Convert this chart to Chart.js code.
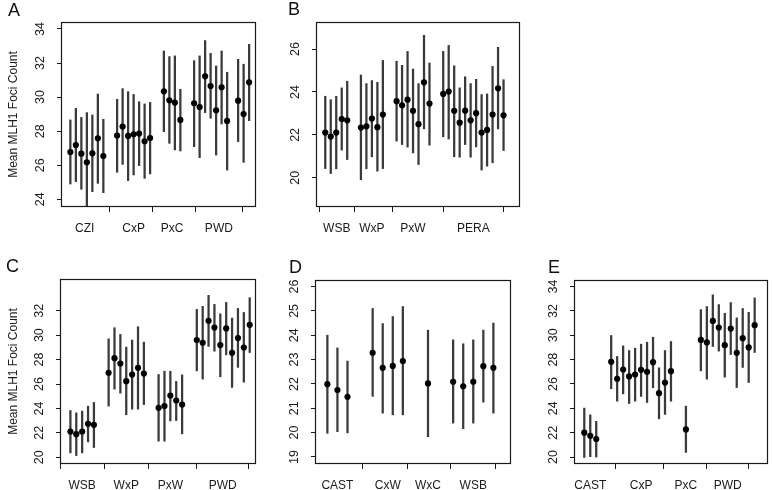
<!DOCTYPE html>
<html>
<head>
<meta charset="utf-8">
<script src="https://cdn.jsdelivr.net/npm/chart.js@4/dist/chart.umd.min.js"></script>
<style>
  body { margin: 0; background: #fff; }
  #wrap { position: relative; width: 772px; height: 490px; overflow: hidden; font-family: "Liberation Sans", Arial, sans-serif; }
  canvas { position: absolute; }
  .letter { position: absolute; font-size: 18px; line-height: 1; color: #111; }
</style>
</head>
<body>
<div id="wrap">
  <canvas id="chartA" width="262" height="240" style="left:0;top:0"></canvas>
  <canvas id="chartB" width="262" height="240" style="left:262px;top:0"></canvas>
  <canvas id="chartC" width="262" height="250" style="left:0;top:240px"></canvas>
  <canvas id="chartD" width="262" height="250" style="left:262px;top:240px"></canvas>
  <canvas id="chartE" width="248" height="250" style="left:524px;top:240px"></canvas>
  <div class="letter" style="left:8px;top:1px">A</div>
  <div class="letter" style="left:288px;top:0px">B</div>
  <div class="letter" style="left:6px;top:257px">C</div>
  <div class="letter" style="left:289px;top:258px">D</div>
  <div class="letter" style="left:548px;top:258px">E</div>
</div>
<script>
// panel A
const posA = [1, 2, 3, 4, 5, 6, 7, 9.5, 10.5, 11.5, 12.5, 13.5, 14.5, 15.5, 18, 19, 20, 21, 23.5, 24.5, 25.5, 26.5, 27.5, 28.5, 29.5, 31.5, 32.5, 33.5];
const meanA = [26.78, 27.19, 26.68, 26.17, 26.70, 27.58, 26.54, 27.74, 28.27, 27.72, 27.82, 27.86, 27.41, 27.60, 30.34, 29.81, 29.68, 28.66, 29.64, 29.42, 31.22, 30.65, 29.23, 30.58, 28.60, 29.79, 29.01, 30.87];
const highA = [28.66, 29.34, 28.81, 29.09, 28.95, 30.18, 28.70, 29.87, 30.50, 30.32, 30.16, 29.73, 29.60, 29.69, 32.71, 32.38, 32.42, 30.46, 32.14, 32.42, 33.32, 32.57, 31.83, 32.71, 31.46, 32.22, 31.93, 33.10];
const lowA = [24.90, 25.04, 24.59, 23.57, 24.45, 24.94, 24.39, 25.59, 26.05, 25.10, 25.43, 25.98, 25.23, 25.49, 27.97, 27.29, 26.90, 26.84, 27.09, 26.45, 29.09, 28.76, 26.60, 28.42, 25.72, 27.39, 26.17, 28.62];
const tickPosA = [3.6, 12.5, 19.5, 28.0];
const tickLabA = ['CZI', 'CxP', 'PxC', 'PWD'];
const yTicksA = [24, 26, 28, 30, 32, 34];

// panel B
const posB = [1, 2, 3, 4, 5, 7.5, 8.5, 9.5, 10.5, 11.5, 14, 15, 16, 17, 18, 19, 20, 22.5, 23.5, 24.5, 25.5, 26.5, 27.5, 28.5, 29.5, 30.5, 31.5, 32.5, 33.5];
const meanB = [22.11, 21.92, 22.11, 22.74, 22.68, 22.34, 22.40, 22.76, 22.36, 22.95, 23.57, 23.38, 23.64, 23.12, 22.50, 24.45, 23.46, 23.91, 24.02, 23.12, 22.57, 23.13, 22.68, 23.01, 22.11, 22.23, 22.95, 24.17, 22.91];
const highB = [23.80, 23.64, 23.80, 24.19, 24.50, 24.79, 24.39, 24.53, 24.45, 25.47, 25.43, 25.24, 25.89, 25.07, 24.39, 26.64, 25.35, 25.89, 26.17, 25.22, 24.19, 24.71, 24.39, 24.59, 23.88, 23.91, 25.19, 26.08, 24.57];
const lowB = [20.43, 20.20, 20.42, 21.29, 20.85, 19.91, 20.42, 20.98, 20.31, 20.43, 21.71, 21.55, 21.43, 21.16, 20.62, 22.28, 21.52, 21.91, 21.81, 20.98, 20.96, 21.55, 20.96, 21.44, 20.36, 20.54, 20.70, 22.28, 21.27];
const tickPosB = [3.1, 9.5, 17.0, 28.0];
const tickLabB = ['WSB', 'WxP', 'PxW', 'PERA'];
const yTicksB = [20, 22, 24, 26];

// panel C
const posC = [1, 2, 3, 4, 5, 7.5, 8.5, 9.5, 10.5, 11.5, 12.5, 13.5, 16, 17, 18, 19, 20, 22.5, 23.5, 24.5, 25.5, 26.5, 27.5, 28.5, 29.5, 30.5, 31.5];
const meanC = [22.11, 21.89, 22.11, 22.74, 22.66, 26.92, 28.12, 27.68, 26.23, 26.78, 27.33, 26.86, 24.05, 24.19, 25.06, 24.65, 24.32, 29.60, 29.38, 31.18, 30.63, 29.19, 30.55, 28.56, 29.76, 28.99, 30.85];
const highC = [23.83, 23.64, 23.78, 24.19, 24.49, 29.70, 30.61, 30.06, 29.02, 29.60, 30.69, 29.43, 26.78, 27.05, 27.05, 26.21, 26.75, 32.11, 32.36, 33.26, 32.52, 31.75, 32.68, 31.40, 32.19, 31.86, 33.07];
const lowC = [20.36, 20.14, 20.36, 21.26, 20.80, 24.19, 25.58, 25.25, 23.48, 23.94, 23.94, 24.32, 21.32, 21.32, 22.98, 23.01, 21.92, 27.08, 26.40, 29.08, 28.69, 26.59, 28.39, 25.72, 27.36, 26.15, 28.58];
const tickPosC = [3.0, 10.5, 18.0, 26.9];
const tickLabC = ['WSB', 'WxP', 'PxW', 'PWD'];
const yTicksC = [20, 22, 24, 26, 28, 30, 32];

// panel D
const posD = [1, 2, 3, 5.5, 6.5, 7.5, 8.5, 11, 13.5, 14.5, 15.5, 16.5, 17.5];
const meanD = [21.99, 21.75, 21.47, 23.28, 22.66, 22.74, 22.94, 22.02, 22.09, 21.90, 22.09, 22.73, 22.66];
const highD = [24.00, 23.48, 22.94, 25.10, 24.48, 24.77, 25.18, 24.21, 23.81, 23.65, 23.81, 24.21, 24.50];
const lowD = [19.97, 20.04, 19.99, 21.49, 20.80, 20.73, 20.73, 19.83, 20.39, 20.16, 20.39, 21.25, 20.80];
const tickPosD = [2, 7, 11, 15.5];
const tickLabD = ['CAST', 'CxW', 'WxC', 'WSB'];
const yTicksD = [19, 20, 21, 22, 23, 24, 25, 26];

// panel E
const posE = [1, 2, 3, 5.5, 6.5, 7.5, 8.5, 9.5, 10.5, 11.5, 12.5, 13.5, 14.5, 15.5, 18, 20.5, 21.5, 22.5, 23.5, 24.5, 25.5, 26.5, 27.5, 28.5, 29.5];
const meanE = [22.00, 21.75, 21.48, 27.82, 26.43, 27.19, 26.62, 26.78, 27.16, 27.00, 27.79, 25.25, 26.12, 27.05, 22.27, 29.62, 29.41, 31.18, 30.64, 29.19, 30.55, 28.56, 29.76, 29.00, 30.83];
const highE = [24.02, 23.47, 22.93, 29.98, 28.26, 29.13, 28.75, 28.94, 29.27, 29.43, 29.84, 27.33, 28.75, 29.49, 24.18, 32.11, 32.36, 33.32, 32.52, 31.81, 32.69, 31.43, 32.20, 31.89, 33.07];
const lowE = [19.97, 20.03, 20.00, 25.61, 24.59, 25.19, 24.40, 24.59, 24.98, 24.48, 25.69, 23.14, 23.50, 24.59, 20.38, 27.08, 26.40, 29.08, 28.70, 26.56, 28.42, 25.71, 27.36, 26.12, 28.59];
const tickPosE = [2, 10.5, 18, 25];
const tickLabE = ['CAST', 'CxP', 'PxC', 'PWD'];
const yTicksE = [20, 22, 24, 26, 28, 30, 32, 34];

const yTitle = 'Mean MLH1 Foci Count';
const FONT = '"Liberation Sans", Arial, sans-serif';
const INK = '#1a1a1a';

// full frame around the plot region
const boxPlugin = {
    id: 'box',
    afterDraw(chart) {
        const { ctx, chartArea: a } = chart;
        ctx.save();
        ctx.strokeStyle = INK;
        ctx.lineWidth = 1.2;
        ctx.strokeRect(a.left + 0.5, a.top + 0.5, a.right - a.left - 1, a.bottom - a.top - 1);
        ctx.restore();
    }
};

const makePanel = (id, p) => {
    const bars = p.pos.map((x, i) => ({ x: x, y: [p.low[i], p.high[i]] }));
    const dots = p.pos.map((x, i) => ({ x: x, y: p.mean[i] }));

    return new Chart(document.getElementById(id), {
        type: 'bar',
        data: {
            datasets: [
                { type: 'scatter', data: dots, order: 0, pointRadius: 3.1, pointBackgroundColor: '#000', pointBorderWidth: 0 },
                { type: 'bar', data: bars, order: 1, backgroundColor: '#3a3a3a', borderWidth: 0, barThickness: 1.6 }
            ]
        },
        options: {
            responsive: false,
            animation: false,
            layout: { padding: { left: 0, top: p.padTop, right: p.padRight, bottom: 0 } },
            plugins: { legend: { display: false }, tooltip: { enabled: false } },
            scales: {
                x: {
                    type: 'linear', bounds: 'data', min: p.xMin, max: p.xMax, offset: false,
                    afterBuildTicks: s => { s.ticks = p.tickPos.map(v => ({ value: v })); },
                    afterFit: s => { s.height = p.xAxisHeight; },
                    ticks: { autoSkip: false, maxRotation: 0, padding: 9, color: INK, font: { family: FONT, size: 12 }, callback: (v, i) => p.tickLab[i] },
                    grid: { drawOnChartArea: false, tickLength: 5, tickColor: INK },
                    border: { display: false }
                },
                y: {
                    type: 'linear', bounds: 'data', min: p.yMin, max: p.yMax,
                    afterBuildTicks: s => { s.ticks = p.yTicks.map(v => ({ value: v })); },
                    afterFit: s => { s.width = p.yAxisWidth; },
                    ticks: { minRotation: 90, maxRotation: 90, crossAlign: 'center', padding: 10, color: INK, font: { family: FONT, size: 12.5 }, callback: v => String(v) },
                    grid: { drawOnChartArea: false, tickLength: 4, tickColor: INK },
                    border: { display: false },
                    title: { display: !!p.title, text: p.title || '', color: INK, font: { family: FONT, size: 12 }, padding: { top: 6, bottom: 0 } }
                }
            }
        },
        plugins: [boxPlugin]
    });
};

makePanel('chartA', { pos: posA, mean: meanA, high: highA, low: lowA, tickPos: tickPosA, tickLab: tickLabA, yTicks: yTicksA,
    xMin: -0.7, xMax: 34.75, yMin: 23.55, yMax: 34.41, yAxisWidth: 61, padTop: 22, padRight: 6, xAxisHeight: 33, title: yTitle });
makePanel('chartB', { pos: posB, mean: meanB, high: highB, low: lowB, tickPos: tickPosB, tickLab: tickLabB, yTicks: yTicksB,
    xMin: -0.69, xMax: 36.5, yMin: 18.64, yMax: 27.26, yAxisWidth: 54, padTop: 22, padRight: 3, xAxisHeight: 33 });
makePanel('chartC', { pos: posC, mean: meanC, high: highC, low: lowC, tickPos: tickPosC, tickLab: tickLabC, yTicks: yTicksC,
    xMin: -0.77, xMax: 32.57, yMin: 19.45, yMax: 34.6, yAxisWidth: 60, padTop: 39, padRight: 6, xAxisHeight: 26, title: yTitle });
makePanel('chartD', { pos: posD, mean: meanD, high: highD, low: lowD, tickPos: tickPosD, tickLab: tickLabD, yTicks: yTicksD,
    xMin: -0.23, xMax: 19.25, yMin: 18.71, yMax: 26.27, yAxisWidth: 53, padTop: 40, padRight: 13, xAxisHeight: 26 });
makePanel('chartE', { pos: posE, mean: meanE, high: highE, low: lowE, tickPos: tickPosE, tickLab: tickLabE, yTicks: yTicksE,
    xMin: -0.72, xMax: 31.73, yMin: 19.43, yMax: 34.54, yAxisWidth: 50, padTop: 40, padRight: 2, xAxisHeight: 26 });
</script>
</body>
</html>
